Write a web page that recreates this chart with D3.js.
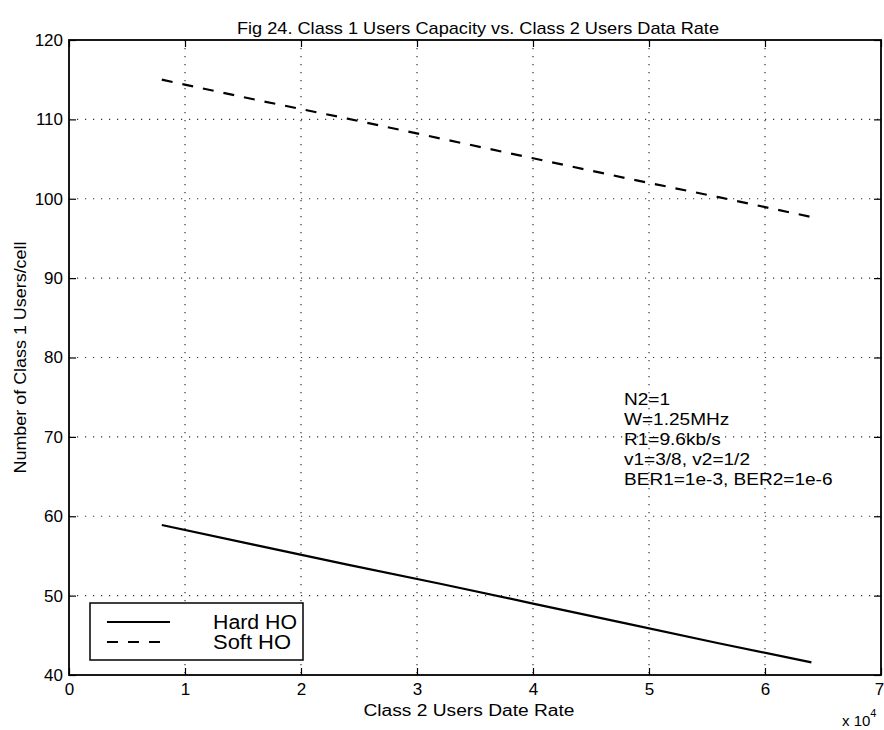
<!DOCTYPE html>
<html>
<head>
<meta charset="utf-8">
<script src="https://cdn.jsdelivr.net/npm/d3@7"></script>
<style>
  html, body { margin: 0; padding: 0; background: #fff; }
  svg { display: block; }
  text { font-family: "Liberation Sans", Arial, Helvetica, sans-serif; fill: #000; }
</style>
</head>
<body>
<svg id="chart" width="884" height="730"></svg>
<script>
// ---- data ----
const dataRates = [8000, 16000, 24000, 32000, 40000, 48000, 56000, 64000];
const hardHO = [58.9, 56.4, 53.9, 51.5, 49.0, 46.5, 44.0, 41.6];
const softHO = [115.0, 112.5, 110.1, 107.6, 105.1, 102.6, 100.2, 97.7];
const xTicks = [0, 10000, 20000, 30000, 40000, 50000, 60000, 70000];
const xTickLabels = ["0", "1", "2", "3", "4", "5", "6", "7"];
const yTicks = [40, 50, 60, 70, 80, 90, 100, 110, 120];
const seriesNames = ["Hard HO", "Soft HO"];
const annotationLines = ["N2=1", "W=1.25MHz", "R1=9.6kb/s", "v1=3/8, v2=1/2", "BER1=1e-3, BER2=1e-6"];
const titleText = "Fig 24. Class 1 Users Capacity vs. Class 2 Users Data Rate";
const xLabelText = "Class 2 Users Date Rate";
const yLabelText = "Number of Class 1 Users/cell";

(function () {
// ---- layout ----
const pL = 69, pR = 881, pT = 40, pB = 675;
const svg = d3.select("#chart");

const x = d3.scaleLinear().domain([0, 70000]).range([pL, pR]);
const y = d3.scaleLinear().domain([40, 120]).range([pB, pT]);

// grid
const grid = svg.append("g").attr("class", "grid");
grid.selectAll("line.vx").data(xTicks.slice(1, -1)).join("line")
  .attr("x1", d => x(d)).attr("x2", d => x(d))
  .attr("y1", pT).attr("y2", pB)
  .attr("stroke", "#333").attr("stroke-width", 1.2)
  .attr("stroke-dasharray", "1.2,6.8");
grid.selectAll("line.hy").data(yTicks.slice(1, -1)).join("line")
  .attr("x1", pL).attr("x2", pR)
  .attr("y1", d => y(d)).attr("y2", d => y(d))
  .attr("stroke", "#333").attr("stroke-width", 1.2)
  .attr("stroke-dasharray", "1.2,6.8");

// axes (ticks inward)
const tickLen = 7;
const xAxisB = d3.axisBottom(x).tickValues(xTicks).tickSize(-tickLen).tickPadding(8)
  .tickFormat((d, i) => xTickLabels[i]);
const xAxisT = d3.axisTop(x).tickValues(xTicks).tickSize(-tickLen).tickFormat("");
const yAxisL = d3.axisLeft(y).tickValues(yTicks).tickSize(-tickLen).tickPadding(6);
const yAxisR = d3.axisRight(y).tickValues(yTicks).tickSize(-tickLen).tickFormat("");

function styleAxis(g) {
  g.select(".domain").remove();
  g.selectAll(".tick line").attr("stroke", "#000").attr("stroke-width", 1.2);
  g.selectAll(".tick text").style("font-size", "17px").attr("fill", "#000")
    .style("font-family", "'Liberation Sans', Arial, sans-serif");
}
svg.append("g").attr("transform", `translate(0,${pB})`).call(xAxisB).call(styleAxis)
  .selectAll(".tick text").filter((d, i) => i === xTicks.length - 1).attr("dx", "-2");
svg.append("g").attr("transform", `translate(0,${pT})`).call(xAxisT).call(styleAxis);
svg.append("g").attr("transform", `translate(${pL},0)`).call(yAxisL).call(styleAxis);
svg.append("g").attr("transform", `translate(${pR},0)`).call(yAxisR).call(styleAxis);

// frame
svg.append("rect").attr("x", pL).attr("y", pT)
  .attr("width", pR - pL).attr("height", pB - pT)
  .attr("fill", "none").attr("stroke", "#000").attr("stroke-width", 1.8);

// lines
const line = d3.line().x((d, i) => x(dataRates[i])).y(d => y(d));
svg.append("path").datum(hardHO).attr("d", line)
  .attr("fill", "none").attr("stroke", "#000").attr("stroke-width", 2.2);
svg.append("path").datum(softHO).attr("d", line)
  .attr("fill", "none").attr("stroke", "#000").attr("stroke-width", 2.2)
  .attr("stroke-dasharray", "11,10");

// title and labels
svg.append("text").attr("x", 478).attr("y", 34).attr("text-anchor", "middle")
  .attr("textLength", 482).attr("lengthAdjust", "spacingAndGlyphs")
  .style("font-size", "17px").text(titleText);
svg.append("text").attr("x", 469).attr("y", 716).attr("text-anchor", "middle")
  .attr("textLength", 211).attr("lengthAdjust", "spacingAndGlyphs")
  .style("font-size", "16px").text(xLabelText);
svg.append("text").attr("transform", `translate(26,${(pT + pB) / 2}) rotate(-90)`)
  .attr("text-anchor", "middle").attr("textLength", 232).attr("lengthAdjust", "spacingAndGlyphs")
  .style("font-size", "16px").text(yLabelText);
const expo = svg.append("text").attr("x", 842).attr("y", 726).style("font-size", "15px");
expo.append("tspan").text("x 10");
expo.append("tspan").attr("dy", -9).style("font-size", "11px").text("4");

// annotation (uniform slight horizontal stretch, as in the scanned original)
const ann = svg.append("g").style("font-size", "17px");
ann.selectAll("text").data(annotationLines).join("text")
  .attr("x", 624).attr("y", (d, i) => 405 + i * 20)
  .text(d => d)
  .each(function () {
    const w = this.getComputedTextLength();
    d3.select(this).attr("textLength", w * 1.12).attr("lengthAdjust", "spacingAndGlyphs");
  });

// legend
const legendWidths = [84, 78];
const lg = svg.append("g");
lg.append("rect").attr("x", 90).attr("y", 603).attr("width", 213).attr("height", 57)
  .attr("fill", "#fff").attr("stroke", "#000").attr("stroke-width", 1.5);
seriesNames.forEach((name, i) => {
  const ly = 622 + i * 20;
  lg.append("line").attr("x1", 107).attr("x2", 170).attr("y1", ly).attr("y2", ly)
    .attr("stroke", "#000").attr("stroke-width", 2)
    .attr("stroke-dasharray", i === 1 ? "11,10" : null);
  lg.append("text").attr("x", 213).attr("y", ly + 7).style("font-size", "20px")
    .attr("textLength", legendWidths[i]).attr("lengthAdjust", "spacingAndGlyphs").text(name);
});
})();
</script>
</body>
</html>
